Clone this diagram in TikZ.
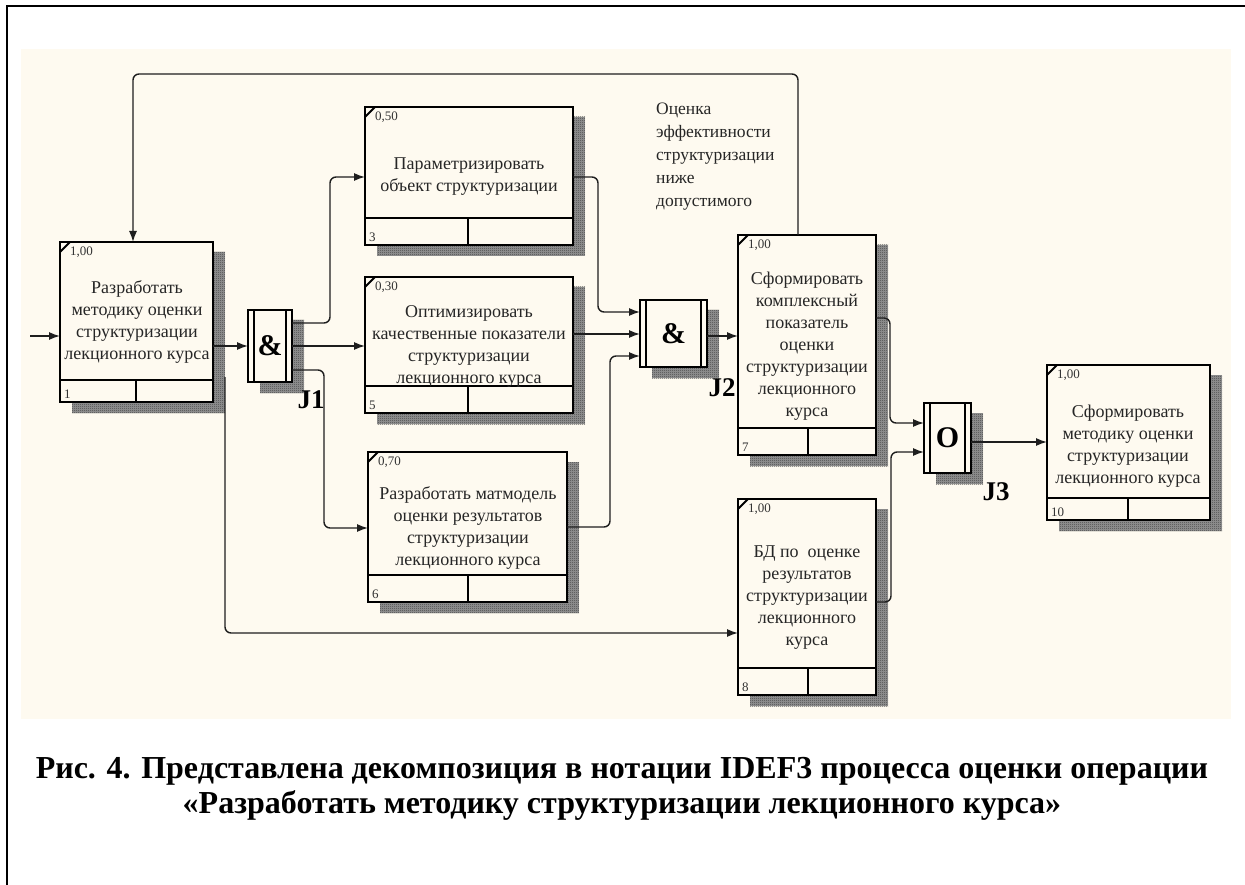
\documentclass[tikz,border=0pt]{standalone}
\usepackage{fontspec}
\setmainfont{Liberation Serif}
\usetikzlibrary{arrows.meta,patterns.meta}
\definecolor{cream}{RGB}{254,250,240}
\definecolor{ink}{RGB}{30,30,30}
\tikzdeclarepattern{
  name=chk,
  type=uncolored,
  bounding box={(0pt,0pt) and (2pt,2pt)},
  tile size={(2pt,2pt)},
  code={\fill (0pt,0pt) rectangle (1pt,1pt); \fill (1pt,1pt) rectangle (2pt,2pt);}
}
\tikzset{
  pbox/.style={draw=black, line width=2.6pt, fill=cream, inner sep=0pt, outer sep=0pt},
  boxline/.style={line width=2.6pt},
  numtxt/.style={font=\fontsize{13}{13}\selectfont, text=black!80, inner sep=0pt},
  btxt/.style={font=\fontsize{18}{22}\selectfont, align=center, text=black!85, inner sep=0pt},
  arr/.style={draw=ink, line width=1.4pt, rounded corners=6pt, -{Latex[length=11pt,width=8pt]}},
  jlab/.style={font=\bfseries\fontsize{27}{27}\selectfont, inner sep=0pt},
  jsym/.style={font=\bfseries\fontsize{30}{30}\selectfont, inner sep=0pt},
  shadowbase/.style={fill=black!40},
  shadowpat/.style={pattern={chk}, pattern color=black!85}
}
\newcommand\procbox[9]{%
  \fill[shadowbase] ({#2+12},{#3+10}) rectangle ({#4+12},{#6+11});
  \fill[shadowpat] ({#2+12},{#3+10}) rectangle ({#4+12},{#6+11});
  \node[pbox, anchor=north west, minimum width={(#4-#2)*1pt}, minimum height={(#6-#3)*1pt}] (#1) at (#2,#3) {};
  \draw[boxline] (#2,#5) -- (#4,#5) (#7,#5) -- (#7,#6);
  \draw[line width=2pt] (#2,{#3+10}) -- ({#2+10},#3);
  \node[numtxt, anchor=north west] (#1w) at ({#2+10},{#3+5}) {#8};
  \node[numtxt, anchor=south west] (#1n) at ({#2+4},{#6-3}) {#9};
}
\newcommand\junc[7]{% name, L, T, R, B, inset, symbol
  \fill[shadowbase] ({#2+12},{#3+10}) rectangle ({#4+12},{#5+11});
  \fill[shadowpat] ({#2+12},{#3+10}) rectangle ({#4+12},{#5+11});
  \node[pbox, anchor=north west, minimum width={(#4-#2)*1pt}, minimum height={(#5-#3)*1pt}] (#1) at (#2,#3) {};
  \draw[line width=2pt] ({#2+#6},#3) -- ({#2+#6},#5) ({#4-#6},#3) -- ({#4-#6},#5);
  \node[jsym] (#1s) at (#1.center) {#7};
}
\begin{document}
\begin{tikzpicture}[x=1pt,y=-1pt]
\useasboundingbox (0,0) rectangle (1245,885);
\fill[white] (0,0) rectangle (1245,885);
\fill[cream] (21,49) rectangle (1231,719);
\draw[line width=2pt] (7,885) -- (7,6) -- (1245,6);

\coordinate (src) at (30,336);
\coordinate (b1out) at (225,377);

\procbox{b1}{60}{242}{213}{380}{402}{136}{1,00}{1}
\procbox{b3}{365}{107}{573}{218}{245}{468}{0,50}{3}
\procbox{b5}{365}{277}{573}{386}{413}{468}{0,30}{5}
\procbox{b6}{368}{452}{567}{575}{602}{468}{0,70}{6}
\procbox{b7}{738}{235}{876}{428}{455}{808}{1,00}{7}
\procbox{b8}{738}{499}{876}{668}{695}{808}{1,00}{8}
\procbox{b10}{1047}{365}{1210}{498}{520}{1128}{1,00}{10}

\junc{j1}{248}{310}{292}{382}{6}{\&}
\junc{j2}{640}{300}{707}{367}{6}{\&}
\junc{j3}{924}{403}{971}{473}{6}{O}

% connectors
\draw[arr] (src) -- (b1.west |- src);
\draw[arr] (b1.east |- 0,346) -- (j1.west |- 0,346);
\draw[arr] (j1.east |- 0,323) -- (330,323) -- (330,177) -- (b3.west |- 0,177);
\draw[arr] (j1.east |- 0,346) -- (b5.west |- 0,346);
\draw[arr] (j1.east |- 0,370) -- (324,370) -- (324,528) -- (b6.west |- 0,528);
\draw[arr] (b1out) -- (225,633) -- (b8.west |- 0,633);
\draw[arr] (b3.east |- 0,177) -- (598,177) -- (598,312) -- (j2.west |- 0,312);
\draw[arr] (b5.east |- 0,334) -- (j2.west |- 0,334);
\draw[arr] (b6.east |- 0,527) -- (610,527) -- (610,356) -- (j2.west |- 0,356);
\draw[arr] (j2.east |- 0,336) -- (b7.west |- 0,336);
\draw[arr] (b7.north -| 798,0) -- (798,74) -- (133,74) -- (b1.north -| 133,0);
\draw[arr] (b7.east |- 0,318) -- (890,318) -- (890,423) -- (j3.west |- 0,423);
\draw[arr] (b8.east |- 0,602) -- (891,602) -- (891,452) -- (j3.west |- 0,452);
\draw[arr] (j3.east |- 0,442) -- (b10.west |- 0,442);

% box texts
\node[btxt] (t1) at (137,322) {Разработать\\методику оценки\\структуризации\\лекционного курса};
\node[btxt] (t3) at (469,177) {Параметризировать\\объект структуризации};
\node[btxt] (t5) at (469,346) {Оптимизировать\\качественные показатели\\структуризации\\лекционного курса};
\node[btxt] (t6) at (468,528) {Разработать матмодель\\оценки результатов\\структуризации\\лекционного курса};
\node[btxt] (t7) at (807,346) {Сформировать\\комплексный\\показатель\\оценки\\структуризации\\лекционного\\курса};
\node[btxt] (t8) at (807,598) {БД по~~оценке\\результатов\\структуризации\\лекционного\\курса};
\node[btxt] (t10) at (1128,446) {Сформировать\\методику оценки\\структуризации\\лекционного курса};

% side note
\node[anchor=north west, align=left, inner sep=0pt, font=\fontsize{17.5}{23}\selectfont, text=black!85] (note) at (656,103) {Оценка\\эффективности\\структуризации\\ниже\\допустимого};

% junction labels
\node[jlab] (l1) at (311,400) {J1};
\node[jlab] (l2) at (722,388) {J2};
\node[jlab] (l3) at (996,492) {J3};

% caption
\node[font=\bfseries\fontsize{32}{35}\selectfont, align=center, inner sep=0pt] (cap) at (622,789) {Рис. 4. Представлена декомпозиция в нотации IDEF3 процесса оценки операции\\«Разработать методику структуризации лекционного курса»};
\end{tikzpicture}
\end{document}
